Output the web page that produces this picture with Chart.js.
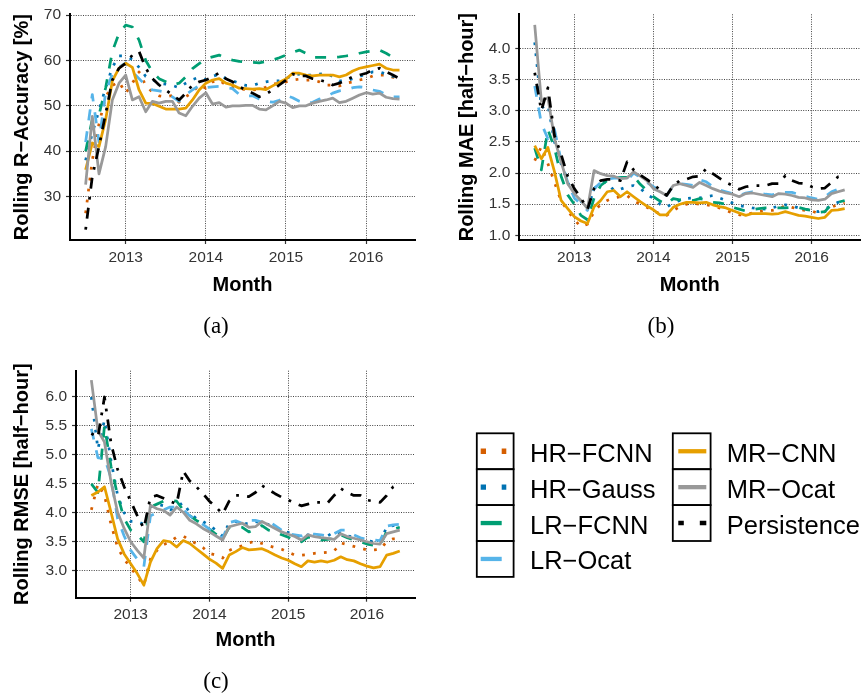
<!DOCTYPE html>
<html>
<head>
<meta charset="utf-8">
<script src="https://cdn.jsdelivr.net/npm/chart.js@4.4.1/dist/chart.umd.min.js"></script>
<style>
  html, body { margin: 0; padding: 0; background: #fff; }
  #wrap { position: relative; width: 863px; height: 694px; overflow: hidden; background: #fff; }
  .panel { position: absolute; }
  .panel canvas { display: block; }
  #overlay { position: absolute; left: 0; top: 0; }
</style>
</head>
<body>
<div id="wrap">
  <div class="panel" style="left:0px;top:0px;width:430px;height:300px"><canvas id="ca" width="430" height="300"></canvas></div>
  <div class="panel" style="left:430px;top:0px;width:433px;height:300px"><canvas id="cb" width="433" height="300"></canvas></div>
  <div class="panel" style="left:0px;top:340px;width:430px;height:320px"><canvas id="cc" width="430" height="320"></canvas></div>
  <svg id="overlay" width="863" height="694" xmlns="http://www.w3.org/2000/svg"></svg>
</div>
<script>
// ---------------- DATA ----------------
const months = ['2012-07','2012-08','2012-09','2012-10','2012-11','2012-12',
  '2013-01','2013-02','2013-03','2013-04','2013-05','2013-06','2013-07','2013-08','2013-09','2013-10','2013-11','2013-12',
  '2014-01','2014-02','2014-03','2014-04','2014-05','2014-06','2014-07','2014-08','2014-09','2014-10','2014-11','2014-12',
  '2015-01','2015-02','2015-03','2015-04','2015-05','2015-06','2015-07','2015-08','2015-09','2015-10','2015-11','2015-12',
  '2016-01','2016-02','2016-03','2016-04','2016-05','2016-06'];

const seriesNames = ['HR\u2212FCNN','HR\u2212Gauss','LR\u2212FCNN','LR\u2212Ocat','MR\u2212CNN','MR\u2212Ocat','Persistence'];

const xTickValues = [2013, 2014, 2015, 2016];
const xTickLabels = ['2013', '2014', '2015', '2016'];

// (a) Rolling R-Accuracy [%]
const accHrFcnn = [26.3,38,46,52,54.5,55.3,52.8,55,57.5,54.5,53,52.2,52,52.3,50.8,52,53,54.6,53.9,55.3,55.7,54.6,54.2,53.9,53.5,53.5,53.7,54.1,54.8,55,55.3,55.7,55.9,55.7,55.7,55.3,54.6,54.6,54.4,55,55.3,55.7,56,56.6,56.8,56.8,56.3,56.2];
const accHrGauss = [38,44,49,54,58.5,61,61,60.2,58.5,56.5,55.8,55,54.8,54.5,54,55,55.8,56.3,55.8,56.5,57,56,55.5,55,54.5,54.5,55,55.3,55.5,55.5,56,56.8,57,56.8,56.8,57,57.2,56.5,55.5,55.5,56,56.5,57,57.5,57.5,57,56.5,56.5];
const accLrFcnn = [40,47,48,54,62,66,67.8,67.4,64.5,60,57.5,56,55.3,54.6,55,56.4,58.2,59.3,60.4,60.8,61.2,60.5,60.1,59.8,59.7,59.6,59.5,59.8,60.1,60.6,61.2,61.8,62.3,61.6,60.7,60.7,60.7,60.7,60.8,61,61.2,61.6,61.9,62.1,62.3,61.6,60.7,60.5];
const accLrOcat = [42,52.5,42,53,57,58.5,59.5,57.5,56,54.5,53.5,53.3,53,52,51,52.5,53.5,54.5,54,54.2,54.3,54,53.8,52.5,52.2,52.2,51.5,51,50.8,51.2,52.3,51.8,51,50.5,50.8,51.5,52,52.8,53.3,53.5,54,54.2,54,53.5,53.2,52.5,52,52];
const accMrCnn = [35.9,41.8,41,47,55.5,58.3,59.4,58.5,53.5,50.6,50.5,49.9,49.3,49.3,49.3,49.5,51.3,53.5,55,55.7,56,55,54.6,53.9,53.8,53.7,53.8,53.6,54.4,55.2,55.9,57.2,57.2,56.8,56.6,56.8,56.8,56.8,56.4,56.8,57.7,58.3,58.6,58.9,59.2,58.3,57.9,57.9];
const accMrOcat = [32.6,47.7,35,41,51.3,55,56.8,51.3,52,48.7,51,50.6,51,51,48.4,47.8,49.9,51.7,52.9,50.4,50.7,49.7,50,50,50.1,50.1,49.3,49.1,50,51,50.6,49.6,50,50,50.6,51,51.3,51.7,50.7,51,51.7,52.4,52.9,52.6,52.8,51.9,51.6,51.5];
const accPersistence = [22.7,34.4,41,48.3,55.7,58.3,59.4,61.2,62,58.3,56,54.6,53.5,52.4,51.3,52.8,54.6,55.3,55.7,56.4,57.3,56,55.3,54.2,53.5,52.8,52,52.6,53.5,54.6,55.7,57,56.6,56.6,56,55.7,55.3,54.6,55,55.7,56.4,56.8,57.2,57.9,58.3,57.5,56.8,56];
const accTicks = [30, 40, 50, 60, 70];
const accTickLabels = ['30', '40', '50', '60', '70'];

// (b) Rolling MAE [half-hour]
const maeHrFcnn = [2.2,2.42,2.15,1.85,1.55,1.4,1.25,1.14,1.18,1.38,1.5,1.56,1.6,1.62,1.64,1.55,1.5,1.45,1.4,1.34,1.32,1.4,1.46,1.5,1.52,1.5,1.49,1.47,1.44,1.4,1.36,1.33,1.33,1.36,1.38,1.4,1.4,1.42,1.48,1.45,1.42,1.4,1.39,1.35,1.38,1.45,1.5,1.52];
const maeHrGauss = [4.1,3.05,3.1,2.5,2.15,1.85,1.65,1.55,1.42,1.75,1.85,1.85,1.72,1.74,1.78,1.8,1.76,1.65,1.6,1.5,1.45,1.52,1.56,1.59,1.6,1.6,1.62,1.64,1.6,1.56,1.52,1.48,1.46,1.44,1.43,1.42,1.44,1.47,1.49,1.47,1.44,1.42,1.4,1.38,1.42,1.48,1.53,1.56];
const maeLrFcnn = [2.4,2.05,2.7,2.4,1.95,1.65,1.5,1.32,1.25,1.6,1.8,1.88,1.92,1.93,1.93,1.95,1.82,1.72,1.62,1.55,1.5,1.59,1.57,1.58,1.56,1.59,1.57,1.53,1.52,1.5,1.45,1.42,1.39,1.41,1.43,1.44,1.44,1.44,1.44,1.45,1.45,1.42,1.4,1.37,1.38,1.5,1.53,1.56];
const maeLrOcat = [3.4,2.8,2.55,2.7,2.2,1.85,1.6,1.5,1.4,1.75,1.85,1.9,1.92,1.92,1.88,2.0,1.93,1.85,1.78,1.72,1.64,1.8,1.83,1.82,1.8,1.89,1.86,1.78,1.73,1.7,1.67,1.64,1.68,1.7,1.68,1.66,1.65,1.68,1.69,1.69,1.66,1.63,1.6,1.58,1.62,1.7,1.74,1.78];
const maeMrCnn = [2.44,2.23,2.41,2.02,1.56,1.43,1.3,1.23,1.19,1.46,1.56,1.7,1.72,1.62,1.7,1.62,1.54,1.47,1.41,1.33,1.33,1.45,1.5,1.53,1.53,1.52,1.53,1.49,1.46,1.44,1.4,1.36,1.32,1.35,1.35,1.35,1.34,1.35,1.38,1.35,1.32,1.31,1.29,1.27,1.29,1.4,1.41,1.43];
const maeMrOcat = [4.38,3.16,3.21,2.55,2.18,1.83,1.67,1.56,1.43,2.04,1.99,1.96,1.95,1.91,1.92,2.02,1.95,1.88,1.75,1.7,1.64,1.8,1.83,1.8,1.77,1.85,1.8,1.75,1.71,1.68,1.66,1.62,1.67,1.68,1.66,1.64,1.62,1.67,1.66,1.64,1.61,1.6,1.57,1.56,1.58,1.67,1.7,1.73];
const maePersistence = [3.61,3.0,3.37,2.6,2.3,1.95,1.75,1.6,1.42,1.75,1.88,1.9,1.9,1.88,2.18,2.05,1.97,1.9,1.82,1.73,1.64,1.8,1.88,1.9,1.94,1.95,2.07,1.99,1.92,1.85,1.8,1.74,1.78,1.8,1.8,1.8,1.83,1.83,1.96,1.88,1.84,1.83,1.78,1.75,1.76,1.85,1.94,1.96];
const maeTicks = [1.0, 1.5, 2.0, 2.5, 3.0, 3.5, 4.0];
const maeTickLabels = ['1.0', '1.5', '2.0', '2.5', '3.0', '3.5', '4.0'];

// (c) Rolling RMSE [half-hour]
const rmseHrFcnn = [4.05,4.5,4.3,3.8,3.4,3.2,3.05,2.9,2.75,3.2,3.35,3.45,3.5,3.58,3.6,3.52,3.47,3.4,3.3,3.27,3.22,3.35,3.4,3.43,3.48,3.51,3.47,3.43,3.4,3.37,3.32,3.27,3.27,3.28,3.3,3.31,3.32,3.34,3.48,3.45,3.42,3.39,3.36,3.36,3.37,3.5,3.55,3.55];
const rmseHrGauss = [6.0,5.1,5.6,4.9,4.3,4.0,3.85,3.85,3.8,4.1,4.15,4.12,4.05,4.1,4.18,4.0,3.9,3.85,3.78,3.7,3.6,3.82,3.85,3.8,3.82,3.85,3.82,3.8,3.75,3.7,3.66,3.6,3.56,3.62,3.6,3.58,3.6,3.67,3.65,3.6,3.58,3.55,3.52,3.5,3.48,3.76,3.78,3.78];
const rmseLrFcnn = [4.5,4.35,5.5,4.8,4.3,3.9,3.7,3.62,3.5,4.1,4.15,4.2,4.22,4.2,4.05,3.95,3.87,3.8,3.72,3.63,3.55,3.75,3.77,3.75,3.67,3.72,3.78,3.7,3.68,3.62,3.58,3.52,3.5,3.58,3.56,3.53,3.54,3.56,3.62,3.57,3.53,3.5,3.46,3.44,3.43,3.68,3.72,3.75];
const rmseLrOcat = [5.45,4.95,4.95,4.6,3.9,3.6,3.35,3.2,3.07,3.95,4.0,4.05,4.1,4.1,4.05,3.95,3.87,3.8,3.72,3.64,3.56,3.83,3.86,3.82,3.87,3.87,3.84,3.86,3.78,3.7,3.64,3.62,3.6,3.64,3.63,3.62,3.6,3.64,3.7,3.7,3.62,3.57,3.54,3.53,3.52,3.77,3.79,3.8];
const rmseMrCnn = [4.3,4.36,4.45,4.01,3.55,3.29,3.12,2.95,2.75,3.15,3.38,3.52,3.5,3.41,3.52,3.47,3.38,3.29,3.2,3.13,3.04,3.27,3.33,3.4,3.36,3.37,3.38,3.33,3.27,3.22,3.18,3.12,3.07,3.17,3.15,3.17,3.15,3.18,3.24,3.19,3.17,3.12,3.08,3.05,3.07,3.27,3.3,3.34];
const rmseMrOcat = [6.29,5.42,5.22,4.53,4.01,3.73,3.5,3.35,3.22,4.13,4.07,4.04,3.96,4.1,4.01,3.87,3.81,3.73,3.67,3.6,3.53,3.76,3.79,3.82,3.75,3.76,3.85,3.79,3.73,3.67,3.63,3.59,3.53,3.62,3.59,3.57,3.56,3.54,3.64,3.59,3.56,3.53,3.5,3.47,3.46,3.64,3.67,3.7];
const rmsePersistence = [5.37,5.3,6.0,5.2,4.75,4.45,4.2,3.95,3.73,4.27,4.3,4.25,4.2,4.15,4.72,4.55,4.45,4.33,4.2,4.1,3.98,4.2,4.3,4.3,4.28,4.35,4.47,4.4,4.33,4.27,4.22,4.17,4.12,4.15,4.18,4.18,4.17,4.3,4.42,4.35,4.3,4.3,4.22,4.2,4.18,4.3,4.45,4.5];
const rmseTicks = [3.0, 3.5, 4.0, 4.5, 5.0, 5.5, 6.0];
const rmseTickLabels = ['3.0', '3.5', '4.0', '4.5', '5.0', '5.5', '6.0'];

// ---------------- STYLE ----------------
const SANS = '"Liberation Sans", Arial, Helvetica, sans-serif';
const SERIF = '"Liberation Serif", "DejaVu Serif", serif';
const LW = 2.75;
const U = 2.75;
const seriesStyle = [
  { color: '#D55E00', dash: [U, 3 * U] },
  { color: '#0072B2', dash: [U, 3 * U] },
  { color: '#009E73', dash: [4 * U, 4 * U] },
  { color: '#56B4E9', dash: [4 * U, 4 * U] },
  { color: '#E69F00', dash: [] },
  { color: '#999999', dash: [] },
  { color: '#000000', dash: [U, 3 * U, 4 * U, 3 * U] }
];

Chart.defaults.font.family = SANS;
Chart.defaults.color = '#333';

function toYear(m) {
  const p = m.split('-');
  return parseInt(p[0], 10) + (parseInt(p[1], 10) - 1) / 12;
}
const xVals = months.map(toYear);

function makePanel(id, opt) {
  const datasets = opt.series.map((vals, i) => ({
    label: seriesNames[i],
    data: vals.map((v, k) => ({ x: xVals[k], y: v })),
    borderColor: seriesStyle[i].color,
    backgroundColor: seriesStyle[i].color,
    borderWidth: LW,
    borderDash: seriesStyle[i].dash,
    borderCapStyle: 'butt',
    borderJoinStyle: 'round',
    pointRadius: 0,
    tension: 0,
    fill: false,
    order: opt.series.length - i
  }));
  const gridCommon = {
    color: '#444', lineWidth: 1, drawOnChartArea: true, drawTicks: true,
    tickLength: 4, tickColor: '#333', tickWidth: 1.2, tickBorderDash: []
  };
  const borderCommon = { display: true, color: '#000', width: 2, dash: [1, 1.4] };
  return new Chart(document.getElementById(id), {
    type: 'line',
    data: { datasets },
    options: {
      responsive: false,
      animation: false,
      devicePixelRatio: 1,
      layout: { padding: opt.padding },
      plugins: { legend: { display: false }, tooltip: { enabled: false } },
      scales: {
        x: {
          type: 'linear', min: 2012.305, max: 2016.61, bounds: 'data',
          afterBuildTicks: s => { s.ticks = xTickValues.map(v => ({ value: v })); },
          afterFit: s => { s.height = opt.xh; },
          ticks: { callback: (v, i) => xTickLabels[i], font: { size: 15.5 }, color: '#333', padding: 4, maxRotation: 0, autoSkip: false },
          grid: gridCommon, border: borderCommon,
          title: { display: true, text: 'Month', color: '#000', font: { size: 20, weight: 'bold' }, padding: { top: 0, bottom: opt.mpb } }
        },
        y: {
          type: 'linear', min: opt.ymin, max: opt.ymax, bounds: 'data',
          afterBuildTicks: s => { s.ticks = opt.yticks.map(v => ({ value: v })); },
          afterFit: s => { s.width = opt.yw; },
          ticks: { callback: (v, i) => opt.ylabels[i], font: { size: 15.5 }, color: '#333', padding: 5 },
          grid: gridCommon, border: borderCommon,
          title: { display: true, text: opt.ytitle, color: '#000', font: { size: 20, weight: 'bold' }, padding: { top: opt.tpt, bottom: 0 } }
        }
      }
    }
  });
}

makePanel('ca', {
  series: [accHrFcnn, accHrGauss, accLrFcnn, accLrOcat, accMrCnn, accMrOcat, accPersistence],
  ymin: 20.4, ymax: 70.2, yticks: accTicks, ylabels: accTickLabels,
  ytitle: 'Rolling R\u2212Accuracy [%]',
  padding: { left: 0, top: 14, right: 15, bottom: 0 }, yw: 70, xh: 60, tpt: 10.5, mpb: 3
});
makePanel('cb', {
  series: [maeHrFcnn, maeHrGauss, maeLrFcnn, maeLrOcat, maeMrCnn, maeMrOcat, maePersistence],
  ymin: 0.925, ymax: 4.55, yticks: maeTicks, ylabels: maeTickLabels,
  ytitle: 'Rolling MAE [half\u2212hour]',
  padding: { left: 0, top: 13.3, right: 3, bottom: 0 }, yw: 89.3, xh: 60, tpt: 25.5, mpb: 3
});
makePanel('cc', {
  series: [rmseHrFcnn, rmseHrGauss, rmseLrFcnn, rmseLrOcat, rmseMrCnn, rmseMrOcat, rmsePersistence],
  ymin: 2.534, ymax: 6.454, yticks: rmseTicks, ylabels: rmseTickLabels,
  ytitle: 'Rolling RMSE [half\u2212hour]',
  padding: { left: 0, top: 30.7, right: 15, bottom: 0 }, yw: 76, xh: 62.3, tpt: 10.5, mpb: 7.5
});

// ---------------- LEGEND + SUBLABELS (SVG overlay) ----------------
const NS = 'http://www.w3.org/2000/svg';
const svg = document.getElementById('overlay');
function el(tag, attrs, text) {
  const e = document.createElementNS(NS, tag);
  for (const k in attrs) e.setAttribute(k, attrs[k]);
  if (text !== undefined) e.textContent = text;
  svg.appendChild(e);
  return e;
}
const legendKeyDash = [
  { dash: '5.3 15.7', w: 5.3 },
  { dash: '5.3 15.7', w: 5.3 },
  { dash: '21 21', w: 4.3 },
  { dash: '21 21', w: 4.3 },
  { dash: 'none', w: 4.3 },
  { dash: 'none', w: 4.3 },
  { dash: '5.5 16 21 16', w: 4.5 }
];
const rowTop = 433.3, rowH = 35.9;
const cols = [
  { bx: 476.8, bw: 36.8, lx1: 480.7, lx2: 506.3, tx: 530, items: [0, 1, 2, 3] },
  { bx: 672.8, bw: 37.8, lx1: 678.3, lx2: 706.3, tx: 726.7, items: [4, 5, 6] }
];
cols.forEach(c => {
  c.items.forEach((si, r) => {
    const y0 = rowTop + r * rowH;
    el('rect', { x: c.bx, y: y0, width: c.bw, height: rowH, fill: 'none', stroke: '#000', 'stroke-width': 1.8 });
    const cy = y0 + rowH / 2;
    const k = legendKeyDash[si];
    const attrs = { x1: c.lx1, y1: cy, x2: c.lx2, y2: cy, stroke: seriesStyle[si].color, 'stroke-width': k.w, 'stroke-linecap': 'butt' };
    if (k.dash !== 'none') attrs['stroke-dasharray'] = k.dash;
    el('line', attrs);
    el('text', { x: c.tx, y: cy + 1.5, 'font-family': SANS, 'font-size': 25.5, fill: '#000', 'dominant-baseline': 'central' }, seriesNames[si]);
  });
});
const subs = [['(a)', 216, 325], ['(b)', 661, 325], ['(c)', 216, 680]];
subs.forEach(s => el('text', { x: s[1], y: s[2], 'font-family': SERIF, 'font-size': 23, fill: '#000', 'text-anchor': 'middle', 'dominant-baseline': 'central' }, s[0]));
</script>
</body>
</html>
